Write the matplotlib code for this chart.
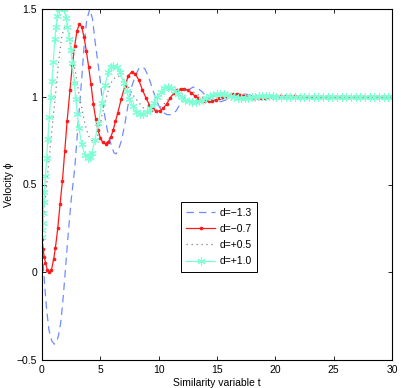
import matplotlib
matplotlib.use("Agg")
import matplotlib.pyplot as plt

plt.rcParams['font.family'] = ['Liberation Sans', 'DejaVu Sans']

# d = -1.3 (dashed blue)
t_a = [0, 0.12, 0.26, 0.4, 0.6, 0.83, 1.06, 1.25, 1.4, 1.6, 1.77, 1.91, 2.06, 2.2, 2.34, 2.5,
       2.65, 2.8, 3.0, 3.2, 3.4, 3.6, 3.83, 4.1, 4.34, 4.54, 4.74, 4.97, 5.14, 5.34, 5.6, 5.89,
       6.17, 6.35, 6.54, 6.83, 7.11, 7.4, 7.7, 8.0, 8.3, 8.55, 8.8, 9.1, 9.4, 9.7, 10.0, 10.3,
       10.7, 11.1, 11.5, 11.9, 12.3, 12.7, 12.95, 13.3, 13.7, 14.1, 14.5, 15.0, 15.4, 15.9,
       16.4, 16.9, 17.4, 17.9, 18.5, 19.1, 19.7, 20.3, 21.0, 21.7, 22.5, 23.5, 24.5, 26, 28, 30]
v_a = [0.19, 0.03, -0.10, -0.215, -0.33, -0.39, -0.41, -0.395, -0.365, -0.29, -0.18, -0.065,
       0.06, 0.18, 0.29, 0.41, 0.50, 0.59, 0.76, 0.93, 1.10, 1.285, 1.437, 1.50, 1.44, 1.32,
       1.22, 1.105, 1.0, 0.906, 0.81, 0.735, 0.68, 0.675, 0.695, 0.754, 0.849, 0.962, 1.06,
       1.12, 1.16, 1.17, 1.16, 1.12, 1.06, 1.0, 0.95, 0.915, 0.898, 0.898, 0.92, 0.965, 1.01,
       1.045, 1.055, 1.05, 1.03, 1.0, 0.98, 0.972, 0.973, 0.985, 1.0, 1.012, 1.015, 1.01, 1.0,
       0.993, 0.992, 0.997, 1.003, 1.004, 1.0, 0.998, 1.0, 1.001, 1.0, 1.0]

# d = -0.7 (red with dots)
t_b = [0, 0.1, 0.2, 0.3, 0.45, 0.6, 0.8, 1.0, 1.15, 1.35, 1.55, 1.75, 1.95, 2.15, 2.4, 2.6,
       2.8, 3.0, 3.2, 3.4, 3.6, 3.8, 4.0, 4.2, 4.4, 4.6, 4.8, 5.0, 5.2, 5.45, 5.7, 5.9, 6.1,
       6.3, 6.5, 6.8, 7.1, 7.4, 7.7, 8.0, 8.3, 8.6, 8.9, 9.2, 9.5, 9.8, 10.1, 10.4, 10.7, 11.0,
       11.3, 11.6, 11.9, 12.2, 12.5, 12.8, 13.1, 13.4, 13.7, 14.0, 14.3, 14.6, 14.9, 15.2,
       15.5, 15.8, 16.1, 16.4, 16.7, 17.0, 17.3, 17.6, 17.9, 18.2, 18.5, 18.8, 19.1, 19.4,
       19.7, 20.0, 20.4, 20.8, 21.2, 21.6, 22.0, 22.4, 22.8, 23.2, 23.6, 24.0, 24.4, 24.8,
       25.2, 25.6, 26.0, 26.4, 26.8, 27.2, 27.6, 28.0, 28.4, 28.8, 29.2, 29.6, 30.0]
v_b = [0.19, 0.13, 0.085, 0.055, 0.015, 0.003, 0.01, 0.075, 0.14, 0.25, 0.39, 0.52, 0.69,
       0.86, 1.04, 1.18, 1.29, 1.375, 1.415, 1.40, 1.34, 1.26, 1.17, 1.07, 0.96, 0.875, 0.81,
       0.765, 0.74, 0.733, 0.745, 0.77, 0.81, 0.86, 0.91, 0.99, 1.06, 1.12, 1.142, 1.13, 1.095,
       1.04, 0.995, 0.955, 0.93, 0.917, 0.92, 0.935, 0.96, 0.995,
       1.02, 1.037, 1.045, 1.045, 1.037, 1.022, 1.005, 0.992, 0.982, 0.976, 0.975, 0.977, 0.983,
       0.992, 1.0, 1.007, 1.012, 1.015, 1.015, 1.012, 1.006, 1.0, 0.996, 0.994, 0.993, 0.993,
       0.994, 0.996, 0.999, 1.001, 1.003, 1.004, 1.004, 1.003, 1.001, 1.0, 0.999, 0.998, 0.999,
       1.0, 1.0, 1.0, 1.0, 1.0, 1.0, 1.0, 1.0, 1.0, 1.0, 1.0, 1.0, 1.0, 1.0, 1.0, 1.0]

# d = +0.5 (dotted gray)
t_c = [0, 0.1, 0.2, 0.4, 0.63, 0.91, 1.2, 1.4, 1.54, 1.69, 1.89, 2.1, 2.3, 2.5, 2.7, 2.97,
       3.2, 3.4, 3.6, 3.83, 4.05, 4.3, 4.5, 4.75, 5.1, 5.4, 5.7, 6.0, 6.3, 6.55, 6.9, 7.4, 7.8,
       8.26, 8.7, 9.1, 9.5, 9.9, 10.4, 10.9, 11.4, 11.9, 12.4, 12.9, 13.4, 13.9, 14.4, 15.0,
       15.6, 16.2, 16.8, 17.5, 18.2, 19.0, 20.0, 21.0, 22.0, 23.5, 25, 27, 30]
v_c = [0.2, 0.28, 0.36, 0.50, 0.66, 0.85, 1.04, 1.18, 1.266, 1.342, 1.39, 1.40, 1.37, 1.29,
       1.2, 1.1, 1.0, 0.94, 0.87, 0.81, 0.77, 0.75, 0.745, 0.77, 0.88, 0.97, 1.04, 1.09, 1.112,
       1.118, 1.1, 1.057, 1.01, 0.97, 0.935, 0.92, 0.915, 0.925, 0.955, 0.99, 1.02, 1.038,
       1.04, 1.03, 1.01, 0.992, 0.982, 0.98, 0.987, 0.998, 1.007, 1.01, 1.005, 0.998, 0.996,
       1.0, 1.002, 1.0, 1.0, 1.0, 1.0]

# d = +1.0 (cyan with asterisks)
t_d = [0, 0.03, 0.06, 0.1, 0.15, 0.2, 0.3, 0.4, 0.5, 0.63, 0.75, 0.85, 0.97, 1.1, 1.2, 1.31,
       1.45, 1.6, 1.75, 1.9, 2.06, 2.17, 2.34, 2.46, 2.6, 2.77, 2.89, 3.03, 3.17, 3.4, 3.69,
       3.91, 4.1, 4.26, 4.54, 4.83, 5.11, 5.4, 5.69, 5.9, 6.11, 6.4, 6.69, 7.0, 7.25, 7.5,
       7.8, 8.1, 8.4, 8.7, 9.0, 9.3, 9.6, 9.9, 10.2, 10.5, 10.8, 11.1, 11.4, 11.7, 12.0, 12.3,
       12.6, 12.9, 13.2, 13.5, 13.8, 14.1, 14.4, 14.7, 15.0, 15.3, 15.6, 15.9, 16.2, 16.5,
       16.8, 17.1, 17.4, 17.7, 18.0, 18.3, 18.6, 18.9, 19.2, 19.5, 19.8, 20.1, 20.5, 20.9,
       21.3, 21.7, 22.1, 22.5, 22.9, 23.3, 23.7, 24.1, 24.5, 24.9, 25.3, 25.7, 26.1, 26.5,
       26.9, 27.3, 27.7, 28.1, 28.5, 28.9, 29.3, 29.7, 30.0]
v_d = [0.2, 0.24, 0.28, 0.34, 0.40, 0.46, 0.55, 0.65, 0.76, 0.886, 1.0, 1.09, 1.2, 1.33,
       1.40, 1.46, 1.50, 1.52, 1.52, 1.50, 1.447, 1.40, 1.33, 1.266, 1.19, 1.08, 0.99, 0.90,
       0.82, 0.73, 0.668, 0.65, 0.655, 0.678, 0.754, 0.849, 0.965, 1.067, 1.143, 1.17, 1.178,
       1.17, 1.14, 1.08, 1.03, 0.985,
       0.945, 0.915, 0.90, 0.90, 0.912, 0.935, 0.965, 0.998, 1.028, 1.05, 1.055, 1.05, 1.035,
       1.015, 0.997, 0.984, 0.976, 0.972, 0.972, 0.976, 0.984, 0.995, 1.004, 1.011, 1.014,
       1.015, 1.013, 1.008, 1.002, 0.997, 0.994, 0.993, 0.993, 0.995, 0.998, 1.0, 1.002, 1.003,
       1.004, 1.004, 1.003, 1.001, 1.0, 0.999, 0.998, 0.998, 0.999, 1.0, 1.001, 1.001, 1.001,
       1.0, 1.0, 1.0, 1.0, 1.0, 1.0, 1.0, 1.0, 1.0, 1.0, 1.0, 1.0, 1.0, 1.0, 1.0, 1.0]

labels = ['d=\u22121.3', 'd=\u22120.7', 'd=+0.5', 'd=+1.0']
xticks = [0, 5, 10, 15, 20, 25, 30]
yticks = [-0.5, 0, 0.5, 1, 1.5]
ytick_labels = ['\u22120.5', '0', '0.5', '1', '1.5']

fig = plt.figure(figsize=(4.02, 3.88), dpi=100)
ax = fig.add_axes([42/402, 1 - 360/388, 350/402, 351/388])

ax.plot(t_a, v_a, linestyle=(0, (6, 4)), color='#6f8cff', linewidth=0.9, label=labels[0])
ax.plot(t_b, v_b, '-', color='#ff1a1a', linewidth=0.9, marker='.', markersize=3.2, label=labels[1])
ax.plot(t_c, v_c, linestyle=(0, (1, 3)), color='#808080', linewidth=0.9, label=labels[2])
ax.plot(t_d, v_d, '-', color='#7fffd4', linewidth=0.9, marker=(6, 2, 0), markersize=6,
        markeredgewidth=0.8, label=labels[3])

ax.set_xlim(0, 30)
ax.set_ylim(-0.5, 1.5)
ax.set_xticks(xticks)
ax.set_xticklabels([str(x) for x in xticks])
ax.set_yticks(yticks)
ax.set_yticklabels(ytick_labels)
ax.tick_params(direction='in', top=True, right=True, labelsize=7.5, length=3, width=0.6)
for s in ax.spines.values():
    s.set_linewidth(0.8)
ax.set_xlabel('Similarity variable t', fontsize=7.5, labelpad=2)
ax.set_ylabel('Velocity \u03d5', fontsize=7.5, labelpad=2)

leg = ax.legend(loc='upper left', bbox_to_anchor=(0.383, 0.464), fontsize=7.5, frameon=True,
                fancybox=False, edgecolor='black', framealpha=1, handlelength=2.7,
                borderpad=0.5, labelspacing=0.6, handletextpad=0.5)
leg.get_frame().set_linewidth(0.7)

fig.savefig('out.png', dpi=100)
